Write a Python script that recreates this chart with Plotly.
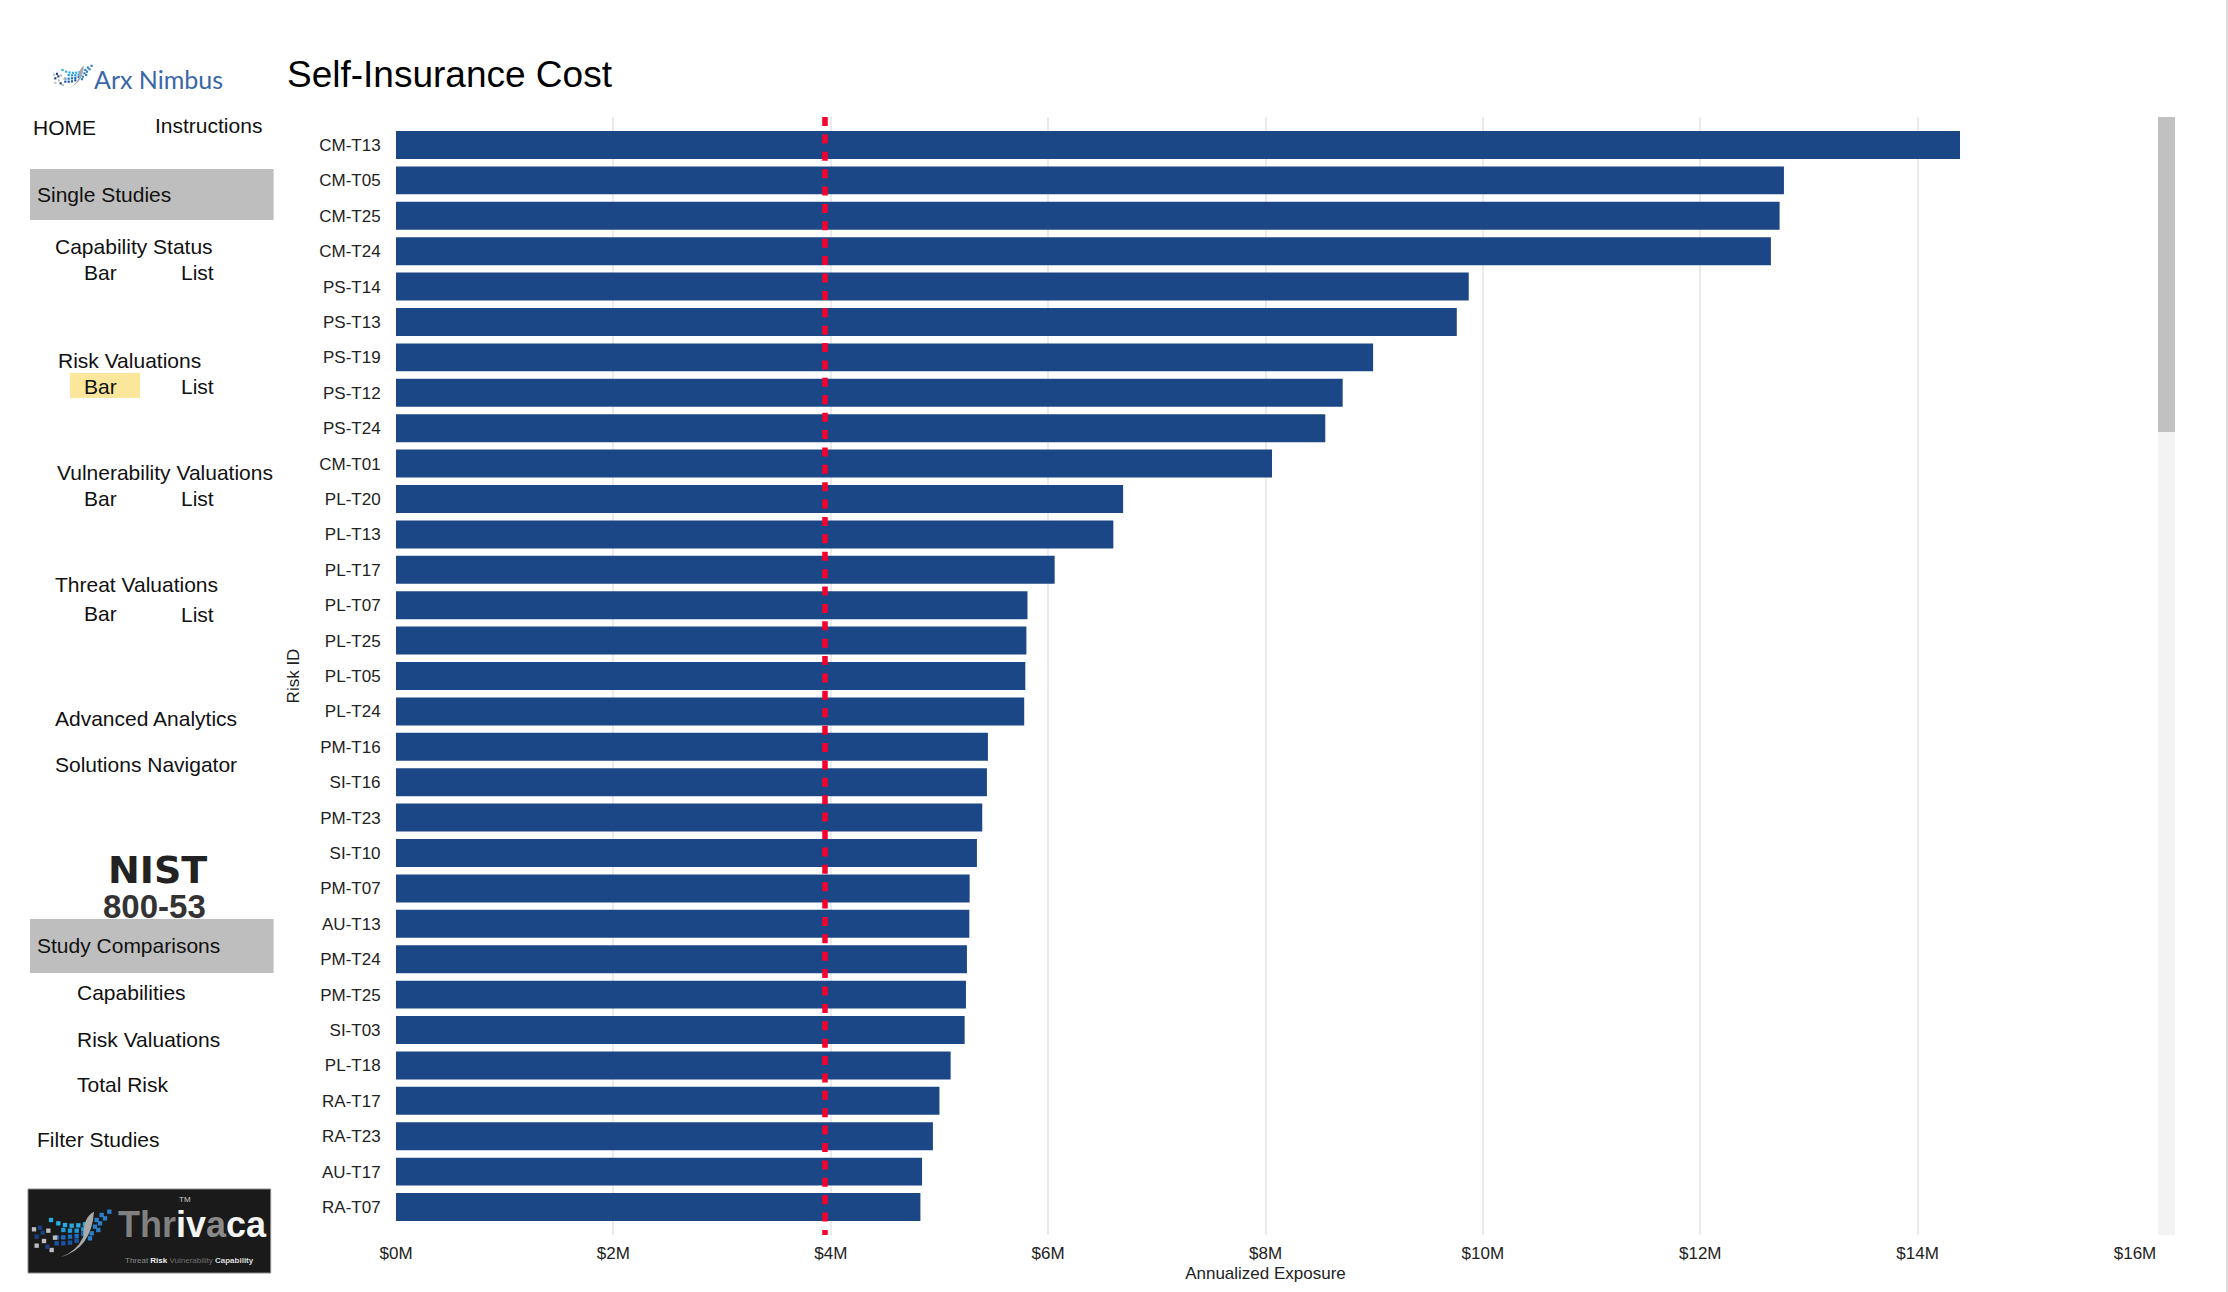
import plotly.graph_objects as go

W, H = 2228, 1292
L, R, T, B = 396, 2135, 117, 1235

RISK_IDS = ["CM-T13", "CM-T05", "CM-T25", "CM-T24", "PS-T14", "PS-T13", "PS-T19", "PS-T12", "PS-T24", "CM-T01",
            "PL-T20", "PL-T13", "PL-T17", "PL-T07", "PL-T25", "PL-T05", "PL-T24", "PM-T16", "SI-T16", "PM-T23",
            "SI-T10", "PM-T07", "AU-T13", "PM-T24", "PM-T25", "SI-T03", "PL-T18", "RA-T17", "RA-T23", "AU-T17",
            "RA-T07"]
EXPOSURE_M = [14.39, 12.77, 12.73, 12.65, 9.87, 9.76, 8.99, 8.71, 8.55, 8.06,
              6.69, 6.60, 6.06, 5.81, 5.80, 5.79, 5.78, 5.446, 5.437, 5.394,
              5.345, 5.278, 5.275, 5.253, 5.244, 5.232, 5.103, 5.00, 4.94, 4.84,
              4.825]
THRESHOLD_M = 3.947
TICK_VALUES = [0, 2, 4, 6, 8, 10, 12, 14, 16]
TICK_LABELS = ["$0M", "$2M", "$4M", "$6M", "$8M", "$10M", "$12M", "$14M", "$16M"]

FONT = "Liberation Sans"

def px(x):
    return x / W

def py(y):
    return 1 - y / H

fig = go.Figure(go.Bar(
    x=EXPOSURE_M, y=RISK_IDS, orientation="h",
    marker=dict(color="#1c4787", line=dict(width=0)),
    width=0.79, showlegend=False,
))

def rect(x0, y0, x1, y1, fill, line=None, layer="below"):
    fig.add_shape(type="rect", xref="paper", yref="paper",
                  x0=px(x0), x1=px(x1), y0=py(y0), y1=py(y1),
                  fillcolor=fill, layer=layer,
                  line=dict(color=line or fill, width=1 if line else 0))

def label(x, y, text, size=21, color="#111111", family=FONT, anchor="left"):
    fig.add_annotation(x=px(x), y=py(y), xref="paper", yref="paper", text=text,
                       showarrow=False, xanchor=anchor, yanchor="middle", borderpad=0,
                       font=dict(family=family, size=size, color=color))

def globe_logo(ox, oy, s):
    """Decorative block swoosh; coordinates are in a small local logo grid."""
    groups = [
        ("#29abe2", [(93,120),(115,130),(135,135),(155,137),(175,136),(195,133)]),
        ("#1f9ad6", [(130,150),(150,152),(170,152),(190,148)]),
        ("#1b6fc0", [(110,172),(130,172),(150,170),(170,168),(190,162)]),
        ("#1a52a8", [(110,190),(130,190),(150,188),(170,182)]),
        ("#bdbdbd", [(42,148),(85,152),(105,173),(72,183),(50,197),(95,210)]),
        ("#1b3f80", [(60,143),(68,158),(50,170),(82,200)]),
        ("#2a7fc9", [(225,140),(240,130),(255,115),(268,95),(245,105),(230,120),(215,160),(235,150),(210,175)]),
    ]
    side = 13 * s
    for color, pts in groups:
        for zx, zy in pts:
            cx, cy = ox + zx * s, oy + zy * s
            rect(cx - side / 2, cy - side / 2, cx + side / 2, cy + side / 2, color, layer="above")
    def P(zx, zy):
        return f"{px(ox + zx * s):.5f},{py(oy + zy * s):.5f}"
    fig.add_shape(type="path", xref="paper", yref="paper", layer="above",
                  path=f"M {P(120,232)} Q {P(215,205)} {P(222,95)} Q {P(190,110)} {P(190,170)} Q {P(170,215)} {P(120,232)} Z",
                  fillcolor="#a9a9a9", line=dict(width=0))

# side menu blocks
rect(30, 169, 273.6, 220, "#bebebe")
rect(30, 919, 273.6, 973, "#bebebe")
rect(70, 373, 140, 398, "#fbe79c")
rect(28, 1189, 270.7, 1273, "#1a1a1a", line="#8a8a8a")
# page scrollbar and edge
rect(2158, T, 2175, B, "#f3f3f3")
rect(2158, T, 2175, 432, "#c1c1c1")
rect(2226, 0, 2228, H, "#dcdcdc")

globe_logo(20, 1180, 1 / 3)
globe_logo(54 - 42 / 6, 65 - 90 / 6, 1 / 6)

label(93, 79, "Arx Nimbus", size=25, color="#3a67a8", family="Lato")
label(32, 127, "HOME")
label(153.5, 125.5, "Instructions")
label(35.5, 195, "Single Studies")
label(53.5, 247, "Capability Status")
label(83, 272, "Bar")
label(180, 272, "List")
label(56.5, 360, "Risk Valuations")
label(83, 386, "Bar")
label(180, 386, "List")
label(55.5, 472, "Vulnerability Valuations")
label(83, 498, "Bar")
label(180, 498, "List")
label(54, 584, "Threat Valuations")
label(83, 614, "Bar")
label(180, 614.5, "List")
label(54, 718, "Advanced Analytics")
label(54, 764, "Solutions Navigator")
label(157, 870, "<b>NIST</b>", size=38, color="#222222", family="DejaVu Sans", anchor="center")
label(154, 906, "<b>800-53</b>", size=33, color="#333333", anchor="center")
label(36, 945, "Study Comparisons")
label(76, 992, "Capabilities")
label(76, 1039, "Risk Valuations")
label(76, 1084, "Total Risk")
label(36, 1139, "Filter Studies")
label(117, 1224,
      '<b><span style="color:#808080">Thr</span><span style="color:#f4f4f4">iv</span>'
      '<span style="color:#8a8a8a">a</span><span style="color:#f4f4f4">ca</span></b>',
      size=36)
label(178, 1199, "TM", size=8, color="#cccccc")
label(124, 1260,
      '<span style="color:#8a8a8a">Threat </span><b><span style="color:#eeeeee">Risk </span></b>'
      '<span style="color:#707070">Vulnerability </span><b><span style="color:#dddddd">Capability</span></b>',
      size=8)

# threshold line, placed on the data axis
fig.add_shape(type="line", xref="x", yref="paper", layer="above",
              x0=THRESHOLD_M, x1=THRESHOLD_M, y0=py(T), y1=py(B),
              line=dict(color="#f5002d", width=5.5, dash="9px,8.39px"))

fig.update_layout(
    width=W, height=H, autosize=False,
    margin=dict(l=0, r=0, t=0, b=0, autoexpand=False),
    paper_bgcolor="white", plot_bgcolor="white",
    font=dict(family=FONT, size=17, color="#222222"),
    title=dict(text="Self-Insurance Cost", x=px(287), xanchor="left", y=py(74), yanchor="middle",
               font=dict(family=FONT, size=37, color="#000000")),
    xaxis=dict(domain=[px(L), px(R)], range=[0, 16], tickmode="array",
               tickvals=TICK_VALUES, ticktext=TICK_LABELS,
               showgrid=True, gridcolor="#ebebeb", gridwidth=2, zeroline=False, showline=False,
               ticks="outside", ticklen=3, tickcolor="rgba(0,0,0,0)",
               anchor="y", title=dict(text="Annualized Exposure", standoff=4, font=dict(size=17))),
    yaxis=dict(domain=[py(B), py(T)], type="category", categoryorder="array", categoryarray=RISK_IDS,
               range=[30.79, -0.79], showgrid=False, zeroline=False, showline=False,
               ticks="outside", ticklen=11, tickcolor="rgba(0,0,0,0)",
               anchor="x", automargin=False, title=dict(text="Risk ID", standoff=15, font=dict(size=17))),
)

fig.write_html("out.html", config=dict(displayModeBar=False),
               post_script="document.body.style.margin='0';document.documentElement.style.overflow='hidden';")
